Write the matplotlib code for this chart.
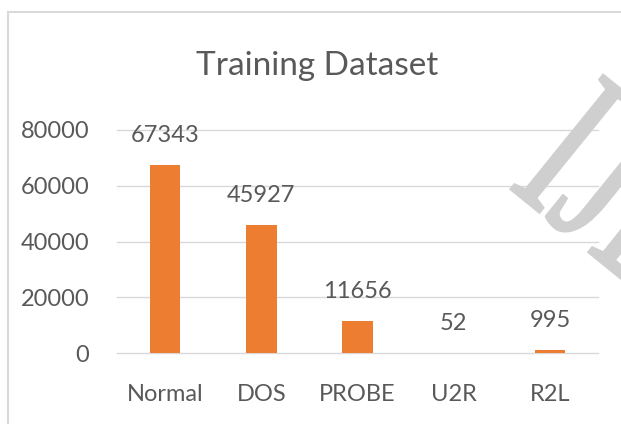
import matplotlib.pyplot as plt
from matplotlib.patches import Rectangle, PathPatch
from matplotlib.textpath import TextPath
from matplotlib.font_manager import FontProperties
from matplotlib.transforms import Affine2D

categories = ['Normal', 'DOS', 'PROBE', 'U2R', 'R2L']
counts = [67343, 45927, 11656, 52, 995]
yticks = [0, 20000, 40000, 60000, 80000]

plt.rcParams['font.family'] = ['Lato', 'DejaVu Sans']
gray = '#595959'

fig = plt.figure(figsize=(6.21, 4.24), dpi=100)
ax = fig.add_axes([117/621, 1-353/424, (598-117)/621, (353-130)/424])
ax.patch.set_visible(False)

x = range(len(categories))
ax.bar(x, counts, width=0.32, color='#ED7D31', zorder=3)
for i, v in enumerate(counts):
    ax.annotate(str(v), (i, v), xytext=(0, 19), textcoords='offset pixels',
                ha='center', va='bottom', fontsize=17, color=gray)

ax.set_xlim(-0.5, len(categories) - 0.5)
ax.set_ylim(0, 80000)
ax.set_yticks(yticks)
ax.set_yticklabels([str(t) for t in yticks])
ax.set_xticks(list(x))
ax.set_xticklabels(categories)
ax.tick_params(axis='both', length=0, labelsize=17, colors=gray)
ax.tick_params(axis='x', pad=22)
ax.tick_params(axis='y', pad=20)
for t in yticks:
    ax.axhline(t, color='#d9d9d9', linewidth=1, zorder=0, clip_on=False)
for s in ax.spines.values():
    s.set_visible(False)

fig.text(317/621, 1-66/424, 'Training Dataset', ha='center', va='center',
         fontsize=24, color=gray)

# chart border
fig.patches.append(Rectangle((8/621, -0.1), 1.2, 1.1 - 12/424,
                             transform=fig.transFigure, fill=False,
                             edgecolor='#d9d9d9', linewidth=1.5))

# watermark, tall narrow serif letters running down to the right
wm = TextPath((0, 0), 'IJERT', size=140, prop=FontProperties(family='Liberation Serif'))
tr = Affine2D().scale(1, 1.6).rotate_deg(-39).translate(507, 424 - 186)
fig.patches.append(PathPatch(wm, transform=tr, facecolor='#cfcfcf',
                             edgecolor='#cfcfcf', linewidth=2, zorder=5))

fig.savefig('out.png', dpi=100)
